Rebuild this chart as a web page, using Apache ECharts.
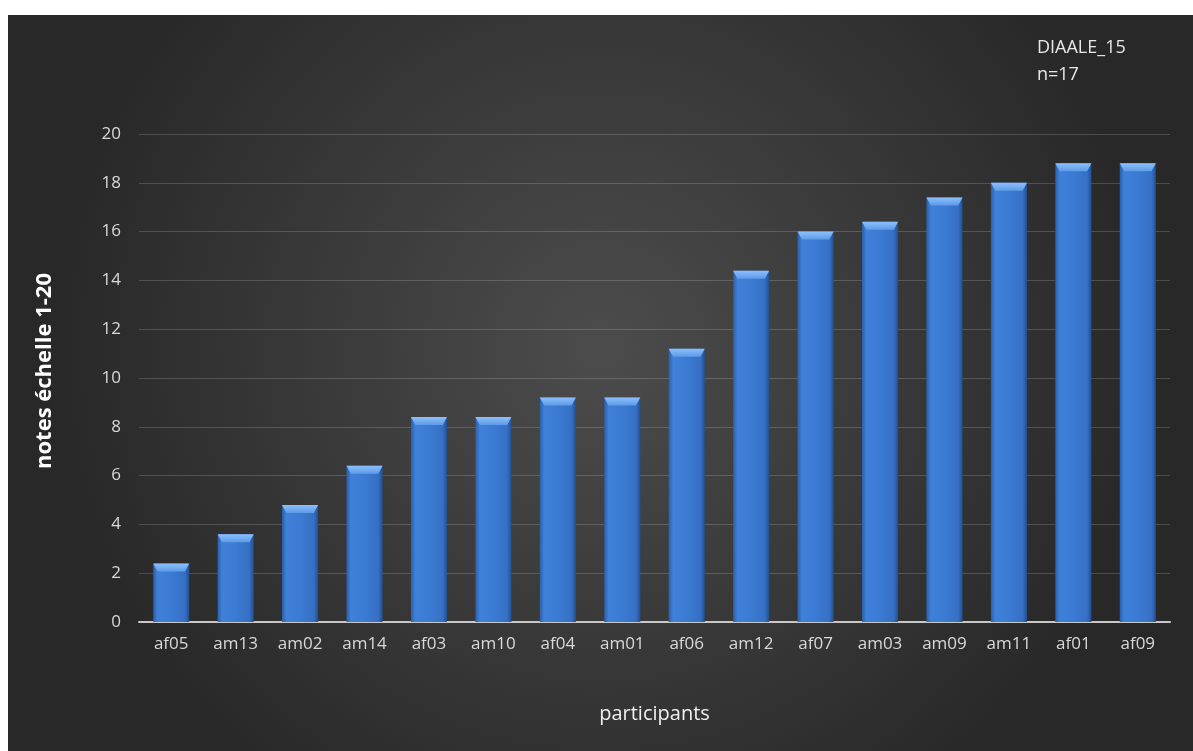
<!DOCTYPE html>
<html><head><meta charset="utf-8">
<script src="https://cdn.jsdelivr.net/npm/echarts@6/dist/echarts.min.js"></script>
<style>html,body{margin:0;padding:0;background:#fff;width:1193px;height:751px;overflow:hidden}
#c{position:absolute;left:8px;top:15px;width:1185px;height:736px}</style>
</head><body><div id="c"></div>
<script>
const categories = ['af05','am13','am02','am14','af03','am10','af04','am01','af06','am12','af07','am03','am09','am11','af01','af09'];
const values = [2.4,3.6,4.8,6.4,8.4,8.4,9.2,9.2,11.2,14.4,16,16.4,17.4,18,18.8,18.8];
const yTicks = {min:0,max:20,interval:2};
const titleLines = ['DIAALE_15','n=17'];
const yName = 'notes échelle 1-20';
const xName = 'participants';

const chart = echarts.init(document.getElementById('c'));
const font = '"Open Sans", "Noto Sans", sans-serif';
chart.setOption({
  backgroundColor: {type:'radial',x:0.5,y:0.45,r:0.75,colorStops:[{offset:0,color:'#4c4c4c'},{offset:1,color:'#282828'}]},
  title:{text:titleLines.join('\n'),left:1024,top:14,textStyle:{color:'#e8e8e8',fontSize:18,fontWeight:'normal',fontFamily:font,lineHeight:27}},
  grid:{left:131,right:23,top:119,bottom:129,containLabel:false},
  xAxis:{type:'category',data:categories,
    name:xName,nameLocation:'middle',nameGap:82,nameTextStyle:{color:'#f0f0f0',fontSize:20,fontFamily:font},
    axisLine:{lineStyle:{color:'#c8c8c8',width:2}},axisTick:{show:false},
    axisLabel:{color:'#d9d9d9',fontSize:17,fontFamily:font,margin:14}},
  yAxis:{type:'value',min:yTicks.min,max:yTicks.max,interval:yTicks.interval,
    name:yName,nameLocation:'middle',nameGap:83,nameRotate:90,
    nameTextStyle:{color:'#ffffff',fontSize:22,fontWeight:'bold',fontFamily:font,padding:[0,0,0,14]},
    axisLine:{show:false},axisTick:{show:false},
    axisLabel:{color:'#d9d9d9',fontSize:17,fontFamily:font,margin:18},
    splitLine:{lineStyle:{color:'rgba(255,255,255,0.17)',width:1}}},
  series:[{type:'bar',data:values,barWidth:'56%',
    itemStyle:{color:{type:'linear',x:0,y:0,x2:1,y2:0,colorStops:[
      {offset:0,color:'#2a5fa8'},{offset:0.12,color:'#3f80d8'},{offset:0.5,color:'#3b7bd4'},{offset:0.88,color:'#3670c4'},{offset:1,color:'#22508f'}]},
      shadowColor:'rgba(0,0,0,0.5)',shadowBlur:6,shadowOffsetX:2,shadowOffsetY:0},
    z:2},
   {type:'pictorialBar',data:values,barWidth:'56%',symbol:'path://M0,0 L100,0 L88,10 L12,10 Z',symbolSize:['100%',8],symbolPosition:'end',symbolOffset:[0,0],
    itemStyle:{color:{type:'linear',x:0,y:0,x2:0,y2:1,colorStops:[{offset:0,color:'#8cc0ff'},{offset:1,color:'#5d9be6'}]}},z:3,silent:true,barGap:'-100%'}]
});
</script></body></html>
